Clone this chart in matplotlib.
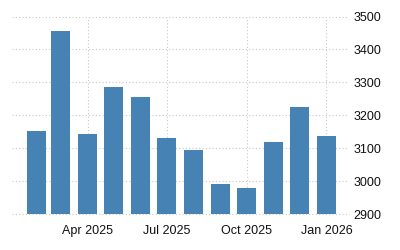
import matplotlib
matplotlib.use("Agg")
import matplotlib.pyplot as plt
import pandas as pd

# monthly values, Feb 2025 - Jan 2026
months = ["2025-02", "2025-03", "2025-04", "2025-05", "2025-06", "2025-07",
          "2025-08", "2025-09", "2025-10", "2025-11", "2025-12", "2026-01"]
values = [3151, 3455, 3142, 3285, 3255, 3130, 3094, 2991, 2979, 3118, 3224, 3136]

xtick_dates = ["2025-04-01", "2025-07-01", "2025-10-01", "2026-01-01"]
xtick_labels = ["Apr 2025", "Jul 2025", "Oct 2025", "Jan 2026"]
yticks = [2900, 3000, 3100, 3200, 3300, 3400, 3500]

plt.rcParams["font.family"] = ["Liberation Sans Narrow", "Liberation Sans", "DejaVu Sans"]

dates = pd.to_datetime(months)

fig = plt.figure(figsize=(4, 2.5), dpi=100)
ax = fig.add_axes([0.03, 0.144, 0.8425, 0.79])

ax.bar(dates, [v - 2900 for v in values], bottom=2900, width=22, color="#4682b4", zorder=2)

ax.set_ylim(2900, 3500)
ax.set_xlim(pd.Timestamp("2025-01-04"), pd.Timestamp("2026-01-27"))

ax.set_yticks(yticks)
ax.yaxis.tick_right()
ax.set_xticks(pd.to_datetime(xtick_dates))
ax.set_xticklabels(xtick_labels)
ax.tick_params(axis="both", length=0, labelsize=9, colors="#111111")
ax.tick_params(axis="y", pad=3)
ax.tick_params(axis="x", pad=8)

dots = (0, (1, 2))
ax.grid(True, color="#c8c8c8", linestyle=dots, linewidth=0.8, zorder=0)
for side in ["top", "left", "right", "bottom"]:
    ax.spines[side].set_visible(False)
# dotted baseline instead of a solid spine
ax.axhline(2900, color="#c8c8c8", linestyle=dots, linewidth=0.8, clip_on=False, zorder=3)

fig.savefig("out.png", dpi=100)
